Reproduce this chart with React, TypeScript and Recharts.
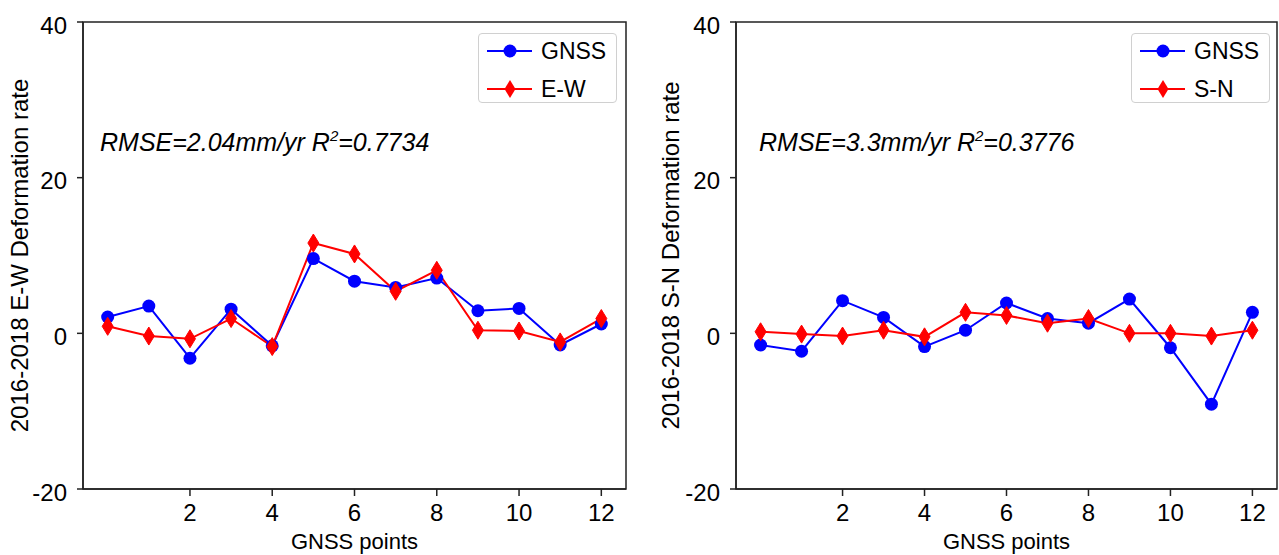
import React from "react"
import { LineChart, Line, XAxis, YAxis, ReferenceArea, Label } from "recharts"

const points = [0, 1, 2, 3, 4, 5, 6, 7, 8, 9, 10, 11, 12]
const xTicks = [2, 4, 6, 8, 10, 12]
const yTicks = [-20, 0, 20, 40]

const gnssEW = [2.1, 3.5, -3.2, 3.1, -1.6, 9.6, 6.7, 5.9, 7.1, 2.9, 3.2, -1.5, 1.2]
const insarEW = [0.9, -0.35, -0.7, 1.9, -1.7, 11.6, 10.2, 5.4, 8.1, 0.4, 0.3, -1.1, 1.9]
const gnssSN = [-1.5, -2.3, 4.2, 2.05, -1.7, 0.4, 3.9, 1.9, 1.3, 4.4, -1.85, -9.1, 2.7]
const insarSN = [0.2, -0.1, -0.35, 0.4, -0.45, 2.7, 2.3, 1.3, 1.9, 0.0, 0.0, -0.35, 0.4]

const FONT = "'Liberation Sans', Arial, sans-serif"
const BLUE = "#0000ff"
const RED = "#ff0000"

const Diamond = (props: any) => {
  const { cx, cy, index } = props
  if (cx == null || cy == null) return null
  return (
    <polygon
      key={index}
      points={`${cx},${cy - 9} ${cx + 5.5},${cy} ${cx},${cy + 9} ${cx - 5.5},${cy}`}
      fill={RED}
      stroke={RED}
      strokeWidth={1}
    />
  )
}

function LegendBox({ left, name }: { left: number; name: string }) {
  return (
    <div
      style={{
        position: "absolute",
        left,
        top: 33,
        width: 137,
        height: 68,
        border: "1px solid #d0d0d0",
        borderRadius: 4,
        background: "#fff",
        fontFamily: FONT,
        fontSize: 23,
        color: "#000",
      }}
    >
      <svg width={60} height={68} style={{ position: "absolute", left: 0, top: 0 }}>
        <line x1={8} y1={17} x2={53} y2={17} stroke={BLUE} strokeWidth={2} />
        <circle cx={31} cy={17} r={6.5} fill={BLUE} />
        <line x1={8} y1={55} x2={53} y2={55} stroke={RED} strokeWidth={2} />
        <polygon points="31,46 36.5,55 31,64 25.5,55" fill={RED} />
      </svg>
      <div style={{ position: "absolute", left: 62, top: 5, lineHeight: "24px" }}>GNSS</div>
      <div style={{ position: "absolute", left: 62, top: 43, lineHeight: "24px" }}>{name}</div>
    </div>
  )
}

interface PanelProps {
  width: number
  axisWidth: number
  marginRight: number
  gnss: number[]
  insar: number[]
  name: string
  yLabel: string
  labelOffset: number
}

function Panel({ width, axisWidth, marginRight, gnss, insar, name, yLabel, labelOffset }: PanelProps) {
  const data = points.map((p, i) => ({ x: p, gnss: gnss[i], insar: insar[i] }))
  const tick = { fontSize: 24, fill: "#000", fontFamily: FONT }
  return (
    <LineChart width={width} height={555} data={data} margin={{ top: 22, right: marginRight, bottom: 0, left: 0 }}>
      <XAxis
        dataKey="x"
        type="number"
        domain={[-0.6, 12.6]}
        allowDataOverflow
        ticks={xTicks}
        tick={tick}
        tickSize={7}
        tickMargin={8}
        height={66}
        stroke="#222"
        strokeWidth={1.5}
      >
        <Label value="GNSS points" position="insideBottom" offset={6} style={{ fontSize: 22, fill: "#000", fontFamily: FONT }} />
      </XAxis>
      <YAxis
        type="number"
        domain={[-20, 40]}
        allowDataOverflow
        ticks={yTicks}
        tick={{ ...tick, dy: 3 }}
        tickSize={6}
        tickMargin={10}
        width={axisWidth}
        stroke="#222"
        strokeWidth={1.5}
      >
        <Label
          value={yLabel}
          angle={-90}
          position="insideLeft"
          offset={labelOffset}
          style={{ fontSize: 24, fill: "#000", fontFamily: FONT, textAnchor: "middle" }}
        />
      </YAxis>
      <ReferenceArea x1={-0.6} x2={12.6} y1={-20} y2={40} fill="none" stroke="#222" strokeWidth={1.5} ifOverflow="visible" />
      <Line
        dataKey="gnss"
        stroke={BLUE}
        strokeWidth={2}
        dot={{ r: 6.5, fill: BLUE, stroke: BLUE, strokeWidth: 0 }}
        isAnimationActive={false}
      />
      <Line dataKey="insar" name={name} stroke={RED} strokeWidth={2} dot={<Diamond />} isAnimationActive={false} />
    </LineChart>
  )
}

const noteStyle: React.CSSProperties = {
  position: "absolute",
  top: 128,
  fontFamily: FONT,
  fontStyle: "italic",
  fontSize: 25,
  lineHeight: 1,
  whiteSpace: "nowrap",
  color: "#000",
}

export default function App() {
  return (
    <div style={{ position: "absolute", left: 0, top: 0, width: 1279, height: 555, background: "#fff", overflow: "hidden" }}>
      <div style={{ position: "absolute", left: 0, top: 0 }}>
        <Panel
          width={640}
          axisWidth={83}
          marginRight={14}
          gnss={gnssEW}
          insar={insarEW}
          name="E-W"
          yLabel="2016-2018 E-W Deformation rate"
          labelOffset={19}
        />
      </div>
      <div style={{ position: "absolute", left: 640, top: 0 }}>
        <Panel
          width={639}
          axisWidth={96}
          marginRight={2}
          gnss={gnssSN}
          insar={insarSN}
          name="S-N"
          yLabel="2016-2018 S-N Deformation rate"
          labelOffset={30}
        />
      </div>
      <LegendBox left={478} name="E-W" />
      <LegendBox left={1131} name="S-N" />
      <div style={{ ...noteStyle, left: 100 }}>
        RMSE=2.04mm/yr R<sup style={{ fontSize: 15, verticalAlign: "10px" }}>2</sup>=0.7734
      </div>
      <div style={{ ...noteStyle, left: 759 }}>
        RMSE=3.3mm/yr R<sup style={{ fontSize: 15, verticalAlign: "10px" }}>2</sup>=0.3776
      </div>
    </div>
  )
}
